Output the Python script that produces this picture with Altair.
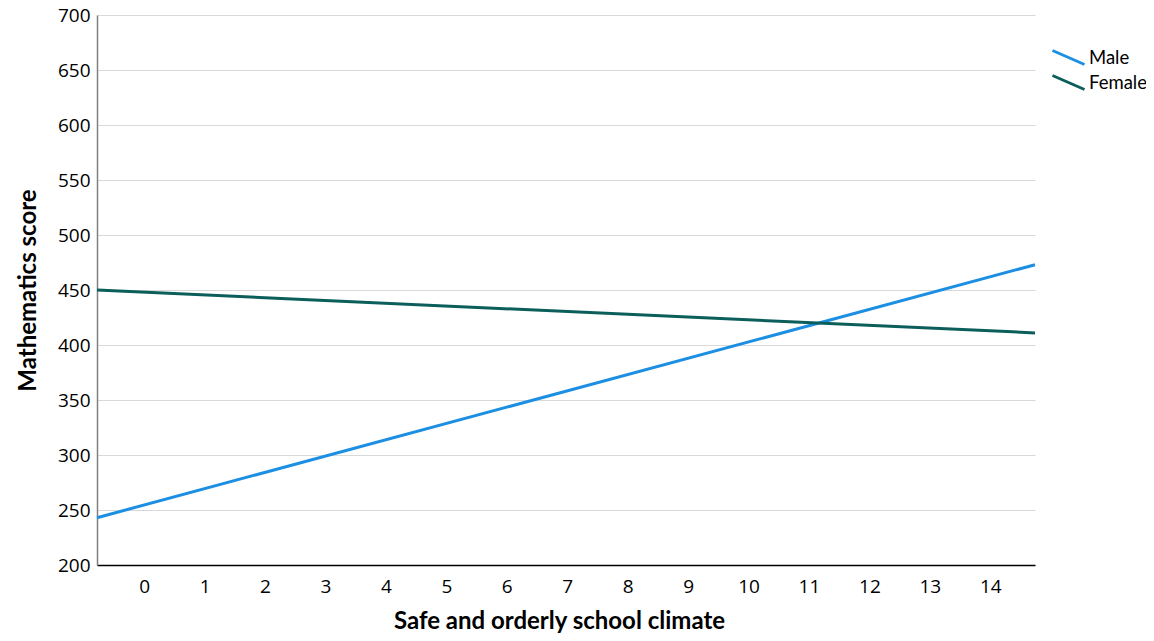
import altair as alt
import pandas as pd

# Data (x in "Safe and orderly school climate" units)
x_ends = [-0.78, 14.74]
male_scores = [243, 473]
female_scores = [450, 411]
series_names = ["Male", "Female"]
series_colors = ["#1C8FE3", "#0B5E5A"]
x_ticks = list(range(0, 15))
y_ticks = list(range(200, 701, 50))

rows = []
for x, m, f in zip(x_ends, male_scores, female_scores):
    rows.append({"climate": x, "score": m, "gender": "Male"})
    rows.append({"climate": x, "score": f, "gender": "Female"})
df = pd.DataFrame(rows)

TICK_FONT = "Open Sans"
TITLE_FONT = "Lato"

chart = (
    alt.Chart(df)
    .mark_line(strokeWidth=3)
    .encode(
        x=alt.X(
            "climate:Q",
            scale=alt.Scale(domain=[x_ends[0], x_ends[1]], nice=False, zero=False),
            axis=alt.Axis(
                title="Safe and orderly school climate",
                values=x_ticks,
                format="d",
                grid=False,
                ticks=False,
                domainColor="#000000",
                domainWidth=1.5,
                labelFontSize=19,
                labelColor="#000000",
                labelPadding=12,
                labelFont=TICK_FONT,
                titleFont=TITLE_FONT,
                titleFontSize=24,
                titleFontWeight="bold",
                titleColor="#000000",
                titlePadding=13,
                titleX=462,
                titleAlign="center",
            ),
        ),
        y=alt.Y(
            "score:Q",
            scale=alt.Scale(domain=[200, 700], nice=False, zero=False),
            axis=alt.Axis(
                title="Mathematics score",
                values=y_ticks,
                grid=True,
                gridColor="#d9d9d9",
                gridWidth=1,
                ticks=False,
                domainColor="#808080",
                domainWidth=1.5,
                labelFontSize=19,
                labelColor="#000000",
                labelPadding=7,
                labelFont=TICK_FONT,
                titleFont=TITLE_FONT,
                titleFontSize=24,
                titleFontWeight="bold",
                titleColor="#000000",
                titlePadding=17,
            ),
        ),
        color=alt.Color(
            "gender:N",
            scale=alt.Scale(domain=series_names, range=series_colors),
            sort=series_names,
            legend=alt.Legend(
                title=None,
                orient="none",
                legendX=960,
                legendY=31,
                symbolType="M-1.6,-0.7L1.6,0.7",
                symbolSize=400,
                symbolStrokeWidth=3,
                symbolFillColor="transparent",
                labelFontSize=18.5,
                labelFont=TITLE_FONT,
                labelColor="#000000",
                labelOffset=9,
                rowPadding=-2,
            ),
        ),
    )
    .properties(
        width=938,
        height=550,
        padding={"left": 89, "top": 7, "right": 111, "bottom": 68},
        autosize=alt.AutoSizeParams(type="none"),
        background="#ffffff",
    )
    .configure_view(strokeWidth=0, stroke="transparent")
)

chart.save("out.html", embed_options={"renderer": "svg", "actions": False})
